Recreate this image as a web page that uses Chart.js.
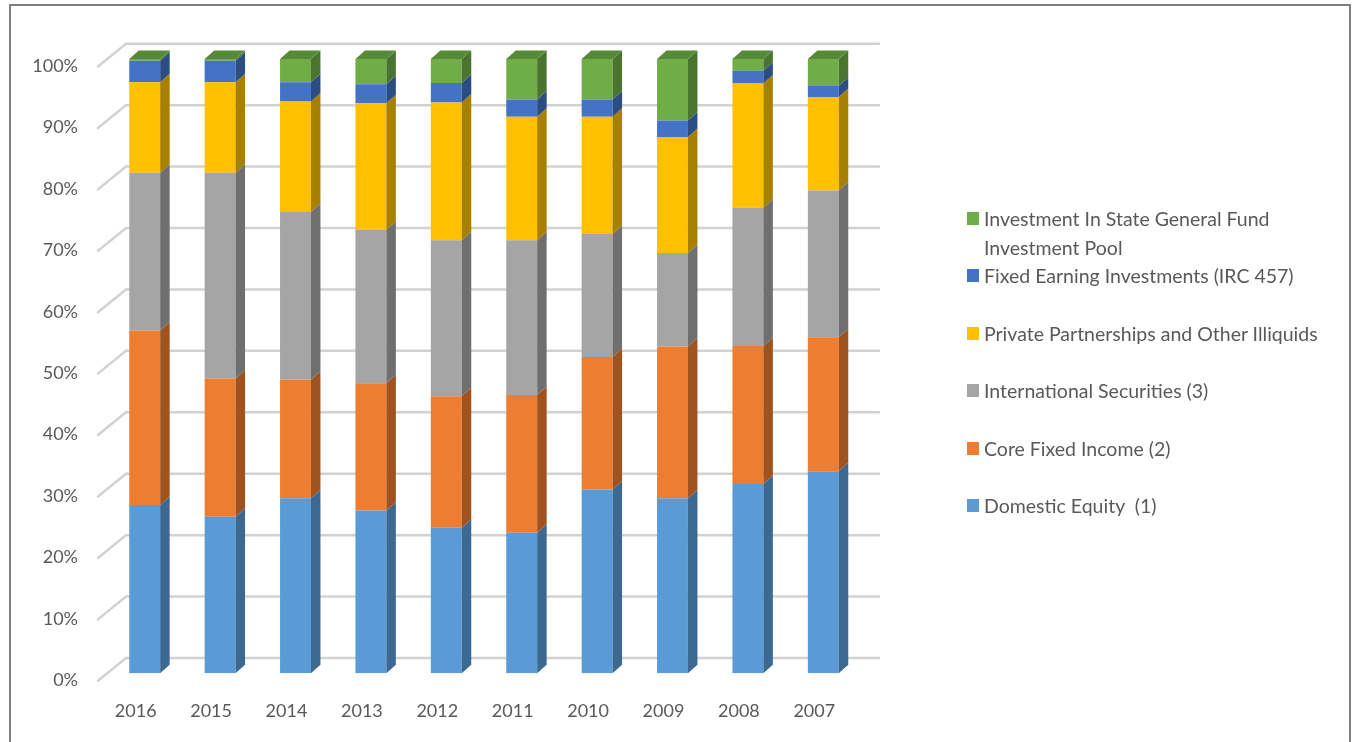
<!DOCTYPE html>
<html>
<head>
<meta charset="utf-8">
<script src="https://cdn.jsdelivr.net/npm/chart.js@4"></script>
<style>
  html, body { margin: 0; padding: 0; background: #fff; }
  #wrap { position: relative; width: 1356px; height: 742px; overflow: hidden; }
  #frame { position: absolute; left: 9px; top: 4px; width: 1342px; height: 760px;
           border: 2px solid #7f7f7f; border-bottom: none; box-sizing: border-box; }
  canvas { position: absolute; left: 0; top: 0; }
  #legend { position: absolute; left: 967px; top: 0; font-family: Lato, sans-serif;
            font-size: 19.5px; color: #595959; }
  .item { position: absolute; left: 0; width: 380px; line-height: 29px; }
  .item span.box { position: absolute; left: 0; top: 8px; width: 12px; height: 13px; }
  .item span.txt { display: block; margin-left: 17px; width: 350px; white-space: pre-wrap; }
</style>
</head>
<body>
<div id="wrap">
  <div id="frame"></div>
  <canvas id="chart" width="1356" height="742"></canvas>
  <div id="legend"></div>
</div>
<script>
const years = ['2016', '2015', '2014', '2013', '2012', '2011', '2010', '2009', '2008', '2007'];

// percent of total, bottom of the stack first
const domesticEquity = [27.4, 25.5, 28.5, 26.5, 23.7, 22.9, 29.9, 28.5, 30.8, 32.9];
const coreFixedIncome = [28.4, 22.5, 19.3, 20.7, 21.4, 22.4, 21.6, 24.7, 22.5, 21.8];
const internationalSecurities = [25.7, 33.5, 27.3, 25.0, 25.4, 25.2, 20.0, 15.2, 22.5, 23.9];
const privatePartnerships = [14.7, 14.7, 18.0, 20.6, 22.4, 20.1, 19.1, 18.9, 20.2, 15.2];
const fixedEarning = [3.5, 3.5, 3.1, 3.1, 3.2, 2.8, 2.8, 2.7, 2.1, 1.8];
const stateGeneralFund = [0.3, 0.3, 3.8, 4.1, 3.9, 6.6, 6.6, 10.0, 1.9, 4.4];

const yTicks = [0, 10, 20, 30, 40, 50, 60, 70, 80, 90, 100];

const seriesNames = [
  'Domestic Equity  (1)',
  'Core Fixed Income (2)',
  'International Securities (3)',
  'Private Partnerships and Other Illiquids',
  'Fixed Earning Investments (IRC 457)',
  'Investment In State General Fund Investment Pool'
];
const seriesData = [domesticEquity, coreFixedIncome, internationalSecurities,
  privatePartnerships, fixedEarning, stateGeneralFund];
const frontColors = ['#5b9bd5', '#ed7d31', '#a5a5a5', '#ffc000', '#4472c4', '#70ad47'];
const sideColors = ['#3c6991', '#a0531f', '#6f6f6f', '#a88000', '#2c4c84', '#4a7530'];
const topColor = '#568a37';

const DX = 9.5, DY = -8.5; // bar depth

// back wall + side wall grid
const wallGrid = {
  id: 'wallGrid',
  beforeDatasetsDraw(chart) {
    const ctx = chart.ctx;
    const y = chart.scales.y;
    ctx.save();
    ctx.strokeStyle = '#d2d2d2';
    ctx.lineWidth = 2.5;
    ctx.lineCap = 'round';
    yTicks.forEach(v => {
      const py = y.getPixelForValue(v);
      ctx.beginPath();
      ctx.moveTo(98, py + 7.5);
      ctx.lineTo(126, py - 15.3);
      ctx.lineTo(879, py - 15.3);
      ctx.stroke();
    });
    ctx.restore();
  }
};

// side and top faces of the columns
const bars3d = {
  id: 'bars3d',
  afterDatasetsDraw(chart) {
    const ctx = chart.ctx;
    const last = chart.data.datasets.length - 1;
    ctx.save();
    chart.data.datasets.forEach((ds, i) => {
      const meta = chart.getDatasetMeta(i);
      meta.data.forEach(bar => {
        const p = bar.getProps(['x', 'y', 'base', 'width'], true);
        const left = p.x - p.width / 2;
        const right = p.x + p.width / 2;
        const top = Math.min(p.y, p.base);
        const bottom = Math.max(p.y, p.base);
        ctx.fillStyle = sideColors[i];
        ctx.beginPath();
        ctx.moveTo(right, top);
        ctx.lineTo(right + DX, top + DY);
        ctx.lineTo(right + DX, bottom + DY);
        ctx.lineTo(right, bottom);
        ctx.closePath();
        ctx.fill();
        if (i === last) {
          ctx.fillStyle = topColor;
          ctx.beginPath();
          ctx.moveTo(left, top);
          ctx.lineTo(left + DX, top + DY);
          ctx.lineTo(right + DX, top + DY);
          ctx.lineTo(right, top);
          ctx.closePath();
          ctx.fill();
        }
      });
    });
    ctx.restore();
  }
};

Chart.defaults.font.family = 'Lato, sans-serif';
Chart.defaults.font.size = 18;
Chart.defaults.color = '#595959';

const chart = new Chart(document.getElementById('chart'), {
  type: 'bar',
  data: {
    labels: years,
    datasets: seriesData.map((d, i) => ({
      label: seriesNames[i],
      data: d,
      backgroundColor: frontColors[i],
      borderWidth: 0,
      categoryPercentage: 1,
      barPercentage: 0.41
    }))
  },
  options: {
    responsive: false,
    animation: false,
    layout: { padding: { left: 0, right: 495, top: 59, bottom: 0 } },
    plugins: { legend: { display: false }, tooltip: { enabled: false } },
    scales: {
      x: {
        stacked: true,
        grid: { display: false, drawTicks: false },
        border: { display: false },
        ticks: { padding: 27, labelOffset: -9 },
        afterFit(s) { s.height = 68.7; }
      },
      y: {
        stacked: true,
        min: 0,
        max: 100,
        grid: { display: false, drawTicks: false },
        border: { display: false },
        ticks: { stepSize: 10, padding: 29, labelOffset: 7, callback: v => v + '%' },
        afterFit(s) { s.width = 107; }
      }
    }
  },
  plugins: [wallGrid, bars3d]
});

// legend, top series first
const legend = document.getElementById('legend');
chart.data.datasets.slice().reverse().forEach((ds, i) => {
  const item = document.createElement('div');
  item.className = 'item';
  item.style.top = (218 - 14.5 + i * 57.5) + 'px';
  item.innerHTML = '<span class="box" style="background:' + ds.backgroundColor + '"></span>' +
    '<span class="txt"></span>';
  item.querySelector('.txt').textContent = ds.label;
  legend.appendChild(item);
});
</script>
</body>
</html>
